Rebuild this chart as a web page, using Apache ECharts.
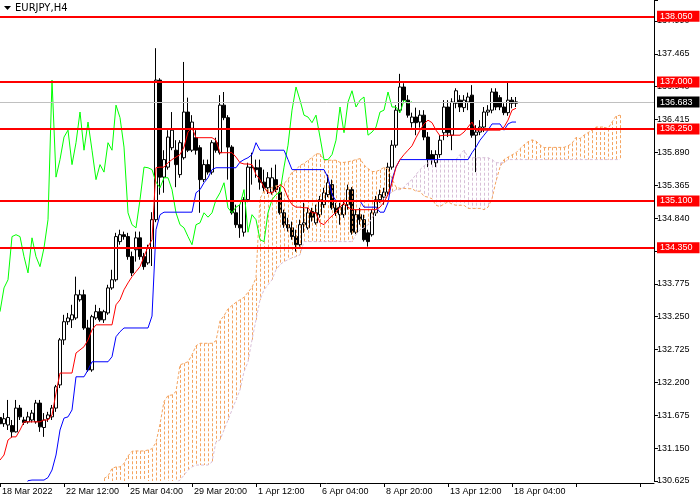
<!DOCTYPE html>
<html><head><meta charset="utf-8">
<script src="https://cdn.jsdelivr.net/npm/echarts@6/dist/echarts.min.js"></script>
<style>html,body{margin:0;padding:0;background:#fff}#c{width:700px;height:500px}</style>
</head><body><div id="c"></div>
<script>
// ---- data (EURJPY H4) ----
const opens = [
131.64,131.54,131.52,131.51,131.41,131.79,131.60,131.57,131.60,131.57,
131.87,131.48,131.62,131.65,131.79,132.16,132.88,133.17,133.20,133.23,
133.52,133.60,133.07,132.40,133.23,133.33,133.20,133.31,133.71,133.84,
134.45,134.56,134.53,134.21,134.32,134.51,134.21,134.11,134.35,134.80,
137.03,135.48,135.64,135.95,135.91,135.52,135.79,136.52,135.91,136.11,
135.95,135.44,135.68,135.56,136.03,135.87,136.63,136.43,135.96,134.91,
134.72,134.60,135.12,135.64,135.63,135.63,135.40,135.31,135.24,135.44,
135.24,134.91,134.72,134.67,134.53,134.40,134.72,134.67,134.93,134.75,
134.88,135.04,135.20,135.36,134.99,134.88,134.88,135.04,135.28,134.60,
134.88,134.80,134.59,134.56,134.91,135.12,135.16,135.24,135.64,135.99,
136.55,136.92,136.71,136.35,136.44,136.36,136.47,136.12,135.84,135.71,
135.84,136.19,136.60,136.15,136.66,136.71,136.59,136.68,136.79,136.15,
136.20,136.28,136.52,136.55,136.84,136.75,136.60,136.51,136.71,136.66];
const closes = [
131.54,131.62,131.64,131.41,131.79,131.65,131.56,131.65,131.71,131.87,
131.49,131.60,131.68,131.79,132.13,132.88,133.17,133.23,133.28,133.60,
133.60,133.07,132.40,133.25,133.33,133.20,133.33,133.71,133.84,134.53,
134.56,134.53,134.21,133.95,134.51,134.21,134.05,134.35,134.80,137.03,
135.48,135.76,136.12,136.23,135.68,136.03,136.52,135.91,136.36,135.91,
135.44,135.68,135.56,136.03,135.91,136.63,136.43,135.96,134.91,134.72,
134.67,135.12,135.64,135.63,135.60,135.40,135.31,135.47,135.47,135.28,
134.91,134.72,134.67,134.53,134.40,134.72,134.75,134.91,134.84,134.91,
135.12,135.23,135.39,134.99,134.91,135.00,135.04,135.28,134.60,134.88,
134.80,134.48,134.45,134.91,135.12,135.20,135.24,135.64,135.99,136.55,
136.92,136.71,136.47,136.44,136.35,136.47,136.12,135.76,135.76,135.84,
136.07,136.60,136.19,136.68,136.86,136.60,136.71,136.76,136.15,136.20,
136.28,136.52,136.55,136.84,136.60,136.60,136.51,136.71,136.66,136.683];
const lows = [
131.40,131.49,131.44,131.32,131.40,131.60,131.52,131.54,131.56,131.54,
131.41,131.33,131.57,131.60,131.73,132.11,132.80,133.12,133.07,133.20,
133.49,133.04,132.37,132.37,133.20,133.17,133.15,133.28,133.68,133.81,
134.40,134.48,134.16,133.90,134.13,134.16,134.00,134.08,134.06,134.76,
135.20,135.23,135.60,135.91,135.32,135.47,135.76,135.88,135.88,135.84,
134.91,135.40,135.52,135.52,135.87,135.84,136.39,135.44,134.88,134.67,
134.51,134.53,135.08,135.36,135.47,135.28,135.24,135.21,135.20,135.24,
134.88,134.67,134.61,134.48,134.29,134.37,134.59,134.64,134.77,134.72,
134.83,134.99,135.16,134.96,134.86,134.72,134.83,134.96,134.56,134.57,
134.72,134.45,134.37,134.53,134.86,135.07,135.04,135.20,135.60,135.95,
136.51,136.68,136.43,136.27,136.15,136.27,136.07,135.64,135.68,135.64,
135.79,136.07,136.12,135.91,136.58,136.52,136.52,136.55,136.11,135.56,
136.15,136.20,136.46,136.50,136.55,136.55,136.47,136.46,136.58,136.60];
const highs = [
131.92,131.71,131.92,131.60,131.92,131.84,131.65,131.73,131.76,131.92,
131.92,131.71,131.73,131.84,132.16,132.91,133.28,133.31,133.44,133.89,
133.68,133.68,133.20,133.28,133.44,133.39,133.36,133.76,134.00,134.59,
134.64,134.61,134.59,134.29,134.61,134.61,134.27,134.40,134.92,137.54,
137.06,135.91,136.23,136.52,136.07,136.07,137.32,136.75,136.47,136.23,
135.99,135.76,135.76,136.07,136.11,136.79,136.84,136.47,135.99,135.04,
135.04,135.16,135.71,135.87,135.76,135.76,135.60,135.56,135.63,135.68,
135.32,134.96,134.83,134.77,134.64,134.80,135.07,134.99,134.99,135.04,
135.18,135.31,135.52,135.44,135.07,135.07,135.12,135.36,135.32,134.96,
134.99,134.88,134.64,134.96,135.18,135.28,135.31,135.71,136.07,136.63,
137.13,136.98,136.79,136.51,136.59,136.55,136.55,136.20,135.91,135.91,
136.15,136.71,136.71,136.74,136.90,136.79,136.79,136.83,136.95,136.31,
136.39,136.60,136.63,136.90,136.90,136.79,136.66,137.00,136.76,136.76];
// Tenkan-sen (red) and Kijun-sen (blue), one value per bar
const tenkan = [
130.96,131.04,131.28,131.33,131.33,131.44,131.57,131.57,131.57,131.57,
131.57,131.60,131.60,131.68,132.03,132.35,132.35,132.35,132.35,132.67,
132.72,132.77,132.88,133.04,133.12,133.12,133.12,133.12,133.12,133.44,
133.52,133.68,133.79,133.89,133.97,134.05,134.21,134.37,134.48,135.63,
135.64,135.64,135.71,135.76,135.80,135.84,135.96,136.20,136.27,136.11,
136.11,136.11,136.11,136.11,136.07,135.87,135.87,135.87,135.87,135.80,
135.71,135.69,135.69,135.68,135.52,135.44,135.32,135.23,135.23,135.28,
135.36,135.31,135.15,135.04,135.00,135.00,134.99,134.99,134.91,134.91,
134.75,134.72,134.80,134.86,134.92,135.00,135.07,135.00,134.96,134.96,
134.96,134.96,134.96,134.96,134.96,135.00,135.08,135.20,135.39,135.64,
135.76,135.84,135.91,135.98,136.11,136.23,136.33,136.39,136.35,136.23,
136.14,136.15,136.15,136.15,136.15,136.15,136.20,136.28,136.36,136.23,
136.23,136.23,136.23,136.23,136.23,136.23,136.28,136.39,136.55,136.58];
const kijun = [
130.37,130.37,130.37,130.37,130.37,130.37,130.48,130.63,130.64,130.64,
130.64,130.64,130.68,130.80,131.04,131.44,131.63,131.65,131.76,132.29,
132.29,132.29,132.40,132.53,132.53,132.53,132.53,132.53,132.61,132.93,
133.01,133.07,133.07,133.07,133.07,133.07,133.07,133.07,133.26,134.64,
134.88,134.92,134.92,134.92,134.92,134.92,134.92,134.92,134.92,135.23,
135.28,135.39,135.47,135.60,135.63,135.63,135.63,135.63,135.63,135.63,
135.72,135.76,135.79,135.84,136.03,135.91,135.91,135.91,135.91,135.91,
135.91,135.91,135.76,135.60,135.60,135.60,135.60,135.60,135.60,135.60,
135.60,135.60,135.47,135.20,135.10,135.10,135.10,135.10,135.10,135.10,
135.10,135.00,135.00,135.00,135.00,134.92,134.92,135.07,135.44,135.64,
135.76,135.76,135.76,135.76,135.76,135.76,135.76,135.76,135.76,135.76,
135.76,135.76,135.76,135.76,135.76,135.76,135.76,135.76,135.87,135.96,
136.07,136.15,136.23,136.33,136.33,136.33,136.23,136.33,136.36,136.36];
// Senkou Span B as plotted (bars 26 .. 155, already shifted forward)
const spanB = [
130.37,130.37,130.37,130.37,130.37,130.37,130.37,130.37,130.37,130.37,
130.37,130.37,130.37,130.37,130.37,130.37,130.37,130.37,130.60,130.64,
130.72,130.80,130.85,130.88,130.88,130.88,130.88,130.93,131.25,131.28,
131.44,131.60,131.76,131.92,132.08,132.37,132.53,132.88,133.20,133.52,
133.68,133.76,133.84,134.00,134.08,134.13,134.16,134.19,134.21,134.24,
134.45,134.45,134.45,134.45,134.45,134.45,134.45,134.45,134.45,134.45,
134.45,134.45,134.45,134.56,134.64,134.67,134.72,134.83,134.92,135.04,
135.15,135.20,135.24,135.28,135.28,135.32,135.39,135.44,135.52,135.60,
135.66,135.71,135.76,135.76,135.76,135.76,135.76,135.76,135.76,135.84,
135.91,135.80,135.79,135.79,135.79,135.79,135.79,135.76,135.71,135.71,
135.71,135.76,135.76,135.76,135.76,135.76,135.76,135.76,135.76,135.76,
135.76,135.76,135.76,135.76,135.76,135.76,135.76,135.76,135.76,135.76,
135.76,135.76,135.76,135.76,135.76,135.76,135.76,135.76,135.76,135.76];
const SHIFT = 26;
const levels = [138.05, 137.00, 136.25, 135.10, 134.35];
const lastPrice = 136.683;
const timeLabels = ['18 Mar 2022','22 Mar 12:00','25 Mar 04:00','29 Mar 20:00','1 Apr 12:00','6 Apr 04:00','8 Apr 20:00','13 Apr 12:00','18 Apr 04:00'];
const priceTicks = ['130.625','131.150','131.675','132.200','132.725','133.250','133.775','134.300','134.840','135.365','135.890','136.415','136.940','137.465','137.990'];
const Y_MIN = 130.625, Y_MAX = 138.31, Y_STEP = 0.525;
const SLOTS = 164;

// ---- derived structures ----
const cats = Array.from({length: SLOTS}, (_, i) => String(i));
const candles = opens.map((o, i) => [o, closes[i], lows[i], highs[i]]);
const chikou = closes.slice(SHIFT);
const spanA = [];
for (let j = 0; j < opens.length + SHIFT; j++) spanA.push(j < SHIFT ? null : (tenkan[j - SHIFT] + kijun[j - SHIFT]) / 2);
const spanBFull = Array(SHIFT).fill(null).concat(spanB);
const cloud = [];
for (let j = SHIFT; j < spanA.length; j++) cloud.push([j, spanA[j], spanBFull[j]]);

const FONT = '"Liberation Sans", Arial, sans-serif';
const chart = echarts.init(document.getElementById('c'), null, {renderer: 'canvas'});
const lblBox = (bg) => ({show: true, position: 'end', distance: 3, color: '#fff', backgroundColor: bg,
  fontSize: 9, fontFamily: FONT, padding: [1, 7, 0, 3], lineHeight: 10});

chart.setOption({
  animation: false,
  backgroundColor: '#ffffff',
  grid: {left: -2, right: 46, top: 0, bottom: 19, containLabel: false, outerBoundsMode: 'none'},
  xAxis: {
    type: 'category', data: cats, boundaryGap: true, offset: 2,
    axisLine: {show: true, lineStyle: {color: '#000', width: 1}},
    axisTick: {show: true, interval: 15, alignWithLabel: true, length: 4, lineStyle: {color: '#000'}},
    axisLabel: {interval: 15, align: 'left', margin: 4, fontSize: 9, fontFamily: FONT, color: '#000',
      padding: [0, 0, 0, 2], formatter: (v, i) => timeLabels[i / 16] || ''},
    splitLine: {show: false}
  },
  yAxis: {
    type: 'value', position: 'right', min: Y_MIN, max: Y_MAX, interval: Y_STEP,
    axisLine: {show: true, lineStyle: {color: '#000', width: 1}},
    axisTick: {show: true, length: 4, lineStyle: {color: '#000'}},
    axisLabel: {margin: 3, fontSize: 9, fontFamily: FONT, color: '#000',
      formatter: v => { const k = Math.round((v - Y_MIN) / Y_STEP);
        return Math.abs(v - (Y_MIN + k * Y_STEP)) < 1e-6 && priceTicks[k] ? priceTicks[k] : ''; }},
    splitLine: {show: false}
  },
  graphic: [
    {type: 'polygon', shape: {points: [[4, 6], [11, 6], [7.5, 10]]}, style: {fill: '#000'}},
    {type: 'text', left: 15, top: 3, style: {text: 'EURJPY,H4', fontSize: 10, fontFamily: '"DejaVu Sans"', fill: '#000'}}
  ],
  series: [
    {type: 'candlestick', data: candles, barWidth: 3, z: 2,
      itemStyle: {color: '#ffffff', color0: '#000000', borderColor: '#000000', borderColor0: '#000000', borderColorDoji: '#000000', borderWidth: 1}},
    {type: 'custom', data: cloud, z: 3, clip: true, silent: true,
      renderItem: (params, api) => {
        const j = api.value(0), a = api.value(1), b = api.value(2);
        const p1 = api.coord([j, a]), p2 = api.coord([j, b]);
        const x = Math.round(p1[0]) + 0.5;
        return {type: 'line', shape: {x1: x, y1: Math.min(p1[1], p2[1]), x2: x, y2: Math.max(p1[1], p2[1])},
          style: {stroke: a >= b ? '#f4a460' : '#d8bfd8', lineWidth: 1, lineDash: [3, 2]}};
      }},
    {type: 'line', data: spanA, showSymbol: false, z: 3, silent: true, lineStyle: {color: '#f4a460', width: 1, type: [3, 2]}},
    {type: 'line', data: spanBFull, showSymbol: false, z: 3, silent: true, lineStyle: {color: '#d8bfd8', width: 1, type: [3, 2]}},
    {type: 'line', data: chikou, showSymbol: false, z: 4, silent: true, lineStyle: {color: '#00ff00', width: 1}},
    {type: 'line', data: kijun, showSymbol: false, z: 4, silent: true, lineStyle: {color: '#0000ff', width: 1}},
    {type: 'line', data: tenkan, showSymbol: false, z: 4, silent: true, lineStyle: {color: '#ff0000', width: 1}},
    {type: 'line', data: closes, showSymbol: false, z: 10, silent: true, lineStyle: {width: 0, opacity: 0},
      markLine: {silent: true, symbol: ['none', 'none'], animation: false,
        data: [{yAxis: lastPrice, lineStyle: {color: '#c0c0c0', width: 1, type: 'solid'}, label: Object.assign(lblBox('#000000'), {formatter: lastPrice.toFixed(3)})}]
          .concat(levels.map(v => ({yAxis: v, lineStyle: {color: '#ff0000', width: 2, type: 'solid'}, label: Object.assign(lblBox('#ff0000'), {formatter: v.toFixed(3)})})))}}
  ]
});
</script></body></html>
